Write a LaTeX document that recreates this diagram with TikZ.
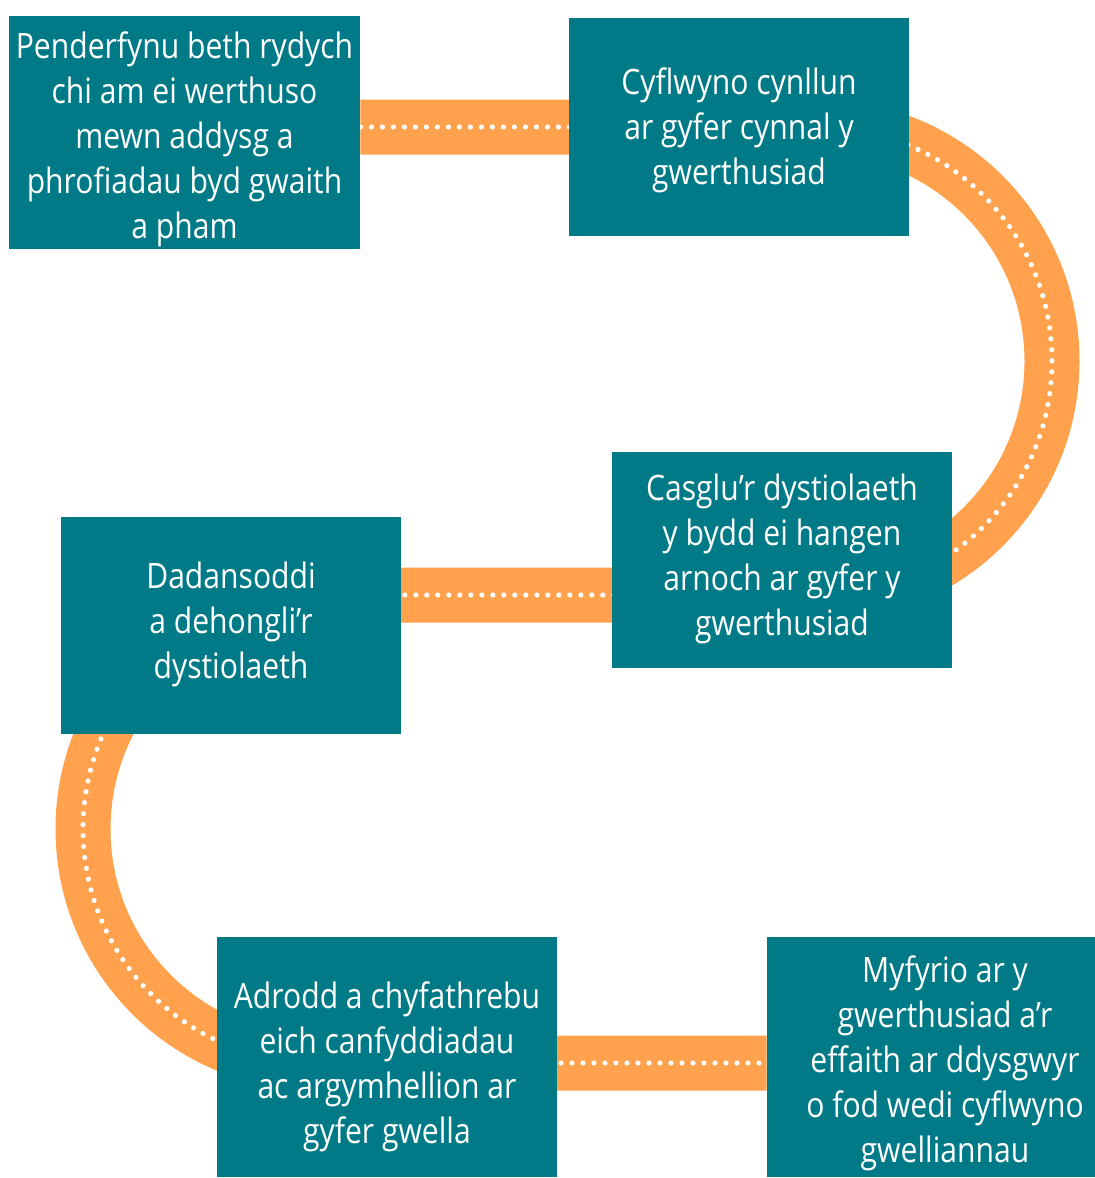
\documentclass[tikz,border=0pt]{standalone}
\usepackage{fontspec}
\setmainfont[FakeStretch=0.86]{Open Sans}
\usetikzlibrary{backgrounds}
\definecolor{boxteal}{RGB}{0,122,135}
\definecolor{bandorange}{RGB}{255,161,77}

\begin{document}
\begin{tikzpicture}[x=0.5pt,y=-0.5pt,
  stage/.style={fill=boxteal,text=white,align=center,inner sep=0pt,
    minimum width=170pt,font=\fontsize{17.5}{22.5}\selectfont},
  lastline/.style={text height=#1,text depth=0pt},
  band/.style={draw=bandorange,line width=27.5pt},
  dots/.style={draw=white,line width=2.6pt,line cap=round,dash pattern=on 0pt off 5.5pt}]
  \def\r{234}

  \useasboundingbox (0,0) rectangle (1094,1178);

  \node (b1) at (184.5,132.5) [stage,lastline=106pt,minimum width=175.5pt,minimum height=116.5pt]
    {Penderfynu beth rydych\\chi am ei werthuso\\mewn addysg a\\phrofiadau byd gwaith\\a pham};
  \node (b2) at (739,127) [stage,lastline=57.5pt,minimum height=109pt]
    {Cyflwyno cynllun\\ar gyfer cynnal y\\gwerthusiad};
  \node (b3) at (782,560) [stage,lastline=75.5pt,minimum height=108pt]
    {Casglu’r dystiolaeth\\y bydd ei hangen\\arnoch ar gyfer y\\gwerthusiad};
  \node (b4) at (231,625.5) [stage,lastline=53pt,minimum height=108.5pt]
    {Dadansoddi\\a dehongli’r\\dystiolaeth};
  \node (b5) at (387,1057) [stage,lastline=86.5pt,minimum height=120pt]
    {Adrodd a chyfathrebu\\eich canfyddiadau\\ac argymhellion ar\\gyfer gwella};
  % runs past the right edge of the page
  \node (b6) at (945,1057) [stage,lastline=105.5pt,minimum width=178pt,minimum height=120pt]
    {Myfyrio ar y\\gwerthusiad a’r\\effaith ar ddysgwyr\\o fod wedi cyflwyno\\gwelliannau};

  % turning points of the route
  \coordinate (r1) at (818,127);
  \coordinate (r2) at (818,595);
  \coordinate (l1) at (317,595);
  \coordinate (l2) at (317,1063);

  \begin{pgfonlayer}{background}
    \draw[band,postaction={dots}] (b1.east |- r1) -- (r1)
      arc[start angle=-90,end angle=90,radius=\r] -- (l1)
      arc[start angle=270,end angle=90,radius=\r] -- (b6.west |- l2);
  \end{pgfonlayer}

\end{tikzpicture}
\end{document}
